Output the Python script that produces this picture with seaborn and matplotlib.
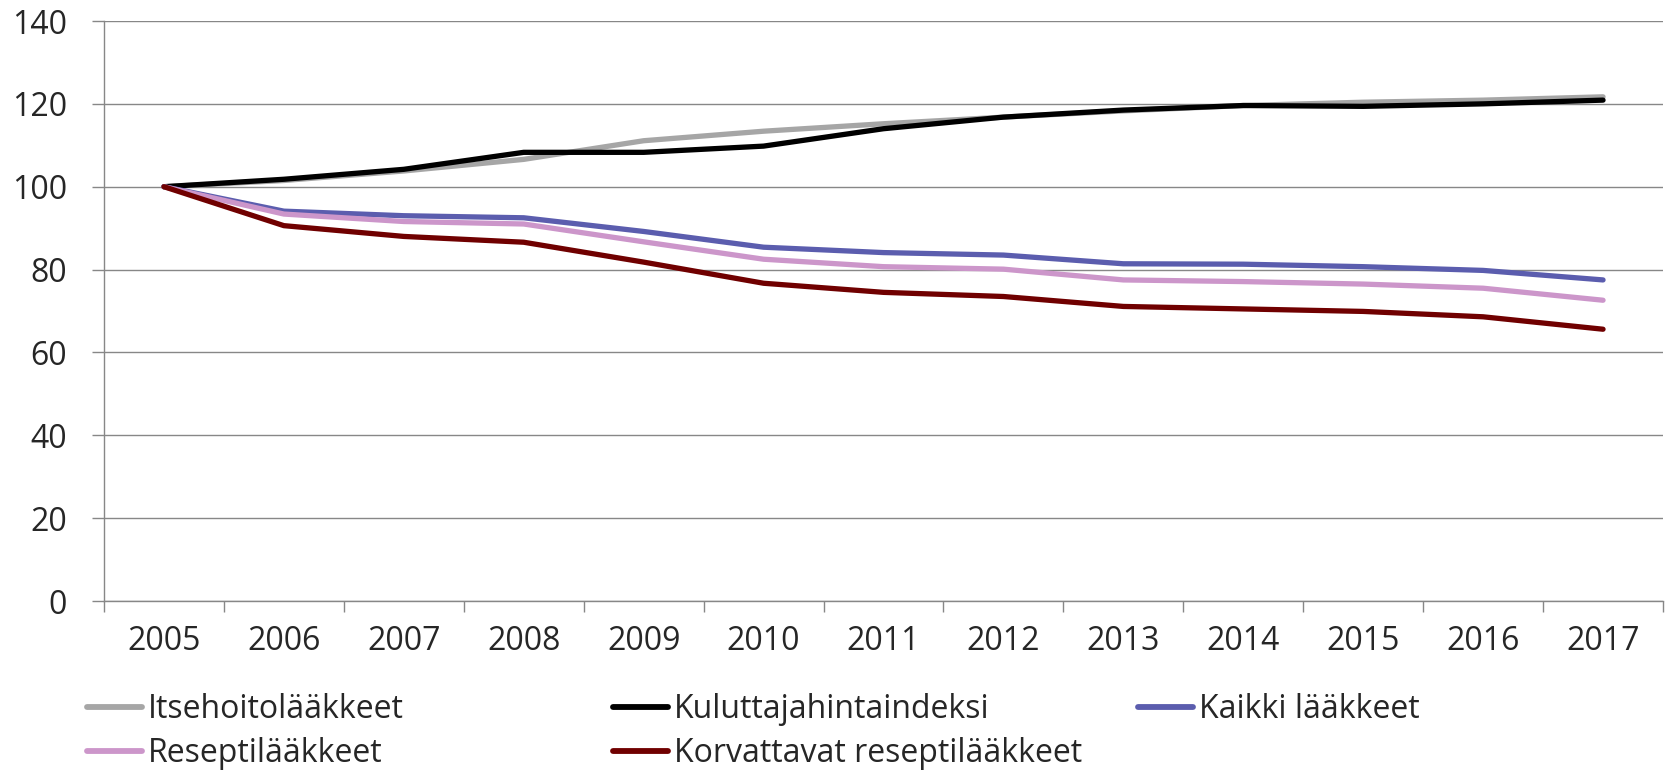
import numpy as np
import pandas as pd
import matplotlib
matplotlib.use("Agg")
import matplotlib.pyplot as plt
import seaborn as sns

# data (index, 2005 = 100)
years = [2005, 2006, 2007, 2008, 2009, 2010, 2011, 2012, 2013, 2014, 2015, 2016, 2017]
itsehoito = [100, 101.5, 103.8, 106.6, 111.1, 113.4, 115.2, 116.8, 118.3, 119.6, 120.4, 120.9, 121.7]
kuluttaja = [100, 101.8, 104.2, 108.3, 108.3, 109.8, 114.0, 116.8, 118.5, 119.6, 119.4, 120.0, 120.9]
kaikki = [100, 94.1, 93.0, 92.5, 89.2, 85.4, 84.1, 83.5, 81.4, 81.3, 80.7, 79.8, 77.5]
resepti = [100, 93.4, 91.6, 91.0, 86.7, 82.5, 80.7, 80.1, 77.5, 77.1, 76.5, 75.5, 72.6]
korvattavat = [100, 90.6, 88.0, 86.6, 81.8, 76.7, 74.5, 73.5, 71.1, 70.5, 69.9, 68.6, 65.6]

series_names = ["Itsehoitolääkkeet", "Kuluttajahintaindeksi", "Kaikki lääkkeet",
                "Reseptilääkkeet", "Korvattavat reseptilääkkeet"]
colors = ["#A6A6A6", "#000000", "#5B5DAE", "#CC96CA", "#700000"]
all_values = [itsehoito, kuluttaja, kaikki, resepti, korvattavat]

df = pd.concat([pd.DataFrame({"year": years, "value": v, "series": n})
                for n, v in zip(series_names, all_values)], ignore_index=True)

sns.set_style("white")
plt.rcParams["font.family"] = ["Open Sans", "DejaVu Sans"]
plt.rcParams["font.size"] = 23

grid_col = "#878787"

fig = plt.figure(figsize=(16.71, 7.73), dpi=100)
ax = fig.add_axes([104 / 1671, 1 - 601 / 773, (1663 - 104) / 1671, (601 - 21) / 773])

sns.lineplot(data=df, x="year", y="value", hue="series", hue_order=series_names,
             palette=dict(zip(series_names, colors)), linewidth=3.8, ax=ax)
for ln in ax.get_lines():
    ln.set_solid_capstyle("round")
    ln.set_solid_joinstyle("round")

handles, labels = ax.get_legend_handles_labels()
ax.get_legend().remove()

ax.set_xlim(years[0] - 0.5, years[-1] + 0.5)
ax.set_ylim(0, 140)
ax.set_yticks(np.arange(0, 141, 20))
ax.set_xticks(years)
ax.set_xticklabels([str(y) for y in years])
ax.set_xticks(np.arange(years[0] - 0.5, years[-1] + 1), minor=True)
ax.set_xlabel("")
ax.set_ylabel("")

ax.yaxis.grid(True, color=grid_col, linewidth=1.0)
ax.xaxis.grid(False)
ax.set_axisbelow(True)
for s in ["top", "right"]:
    ax.spines[s].set_visible(False)
for s in ["left", "bottom"]:
    ax.spines[s].set_color(grid_col)
    ax.spines[s].set_linewidth(1.0)

ax.tick_params(axis="y", which="major", length=8.5, width=1.0, color=grid_col,
               direction="out", pad=18, labelsize=23, left=True)
ax.tick_params(axis="x", which="major", length=0, pad=17, labelsize=23)
ax.tick_params(axis="x", which="minor", length=8, width=1.0, color=grid_col,
               direction="out", bottom=True)

# legend in three columns, placed like the original
order = [[0, 3], [1, 4], [2]]
xs = [87 / 1671, 613 / 1671, 1138 / 1671]
for idx, x0 in zip(order, xs):
    leg = fig.legend([handles[i] for i in idx], [labels[i] for i in idx],
                     loc="upper left", bbox_to_anchor=(x0, 1 - 693 / 773),
                     frameon=False, fontsize=23, handlelength=1.72, handletextpad=0.18,
                     borderpad=0, borderaxespad=0, labelspacing=0.36)
    for h in leg.legend_handles:
        h.set_linewidth(4.2)
        h.set_solid_capstyle("round")

fig.savefig("out.png", dpi=100)
